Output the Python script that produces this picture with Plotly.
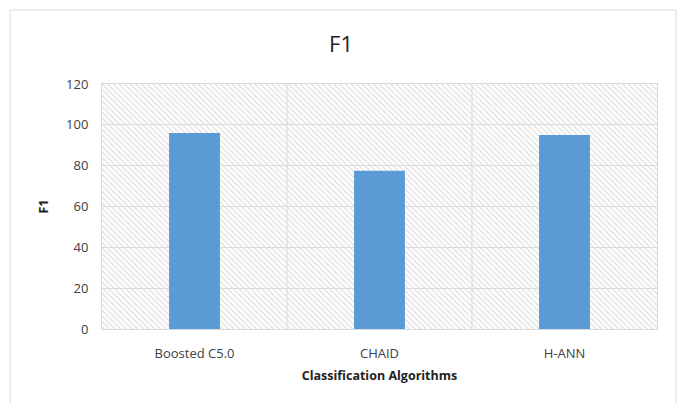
import plotly.graph_objects as go

categories = ["Boosted C5.0", "CHAID", "H-ANN"]
f1_values = [96, 77.5, 95]
y_ticks = [0, 20, 40, 60, 80, 100, 120]

xpos = list(range(len(categories)))
font_family = "Open Sans, Liberation Sans, sans-serif"

fig = go.Figure()
# hatched plot background (one band per category)
fig.add_trace(go.Bar(
    x=xpos, y=[max(y_ticks)] * len(categories), width=1,
    marker=dict(color="rgba(0,0,0,0)", line=dict(width=0),
                pattern=dict(shape="\\", fgcolor="#dedede", bgcolor="rgba(0,0,0,0)",
                             size=4, solidity=0.3, fillmode="replace")),
    hoverinfo="skip", showlegend=False))
fig.add_trace(go.Bar(
    x=xpos, y=f1_values, width=0.275,
    marker=dict(color="#5b9bd5", line=dict(width=0)),
    showlegend=False))

fig.update_layout(
    width=682, height=403,
    margin=dict(l=102, r=25, t=84, b=74),
    paper_bgcolor="white", plot_bgcolor="white",
    barmode="overlay",
    title=dict(text="F1", x=0.5, xanchor="center", y=0.89, yanchor="middle",
               font=dict(family=font_family, size=22, color="#222222")),
    font=dict(family=font_family, color="#404040"),
    xaxis=dict(range=[-0.5, 2.5], tickvals=xpos, ticktext=categories,
               showgrid=False, zeroline=False, showline=True, linecolor="#d9d9d9",
               mirror=True, tickfont=dict(size=13, color="#404040"), ticks="",
               ticklabelstandoff=12,
               title=dict(text="<b>Classification Algorithms</b>", font=dict(size=12.5, color="#222222"),
                          standoff=10)),
    yaxis=dict(range=[0, 120], tickvals=y_ticks, showgrid=True, gridcolor="#d9d9d9",
               zeroline=False, showline=True, linecolor="#d9d9d9", mirror=True,
               tickfont=dict(size=13, color="#404040"), ticks="", ticklabelstandoff=10,
               title=dict(text="<b>F1</b>", font=dict(size=12.5, color="#222222"), standoff=14)),
    shapes=[
        dict(type="line", xref="x", yref="paper", x0=0.5, x1=0.5, y0=0, y1=1,
             line=dict(color="#d9d9d9", width=1), layer="above"),
        dict(type="line", xref="x", yref="paper", x0=1.5, x1=1.5, y0=0, y1=1,
             line=dict(color="#d9d9d9", width=1), layer="above"),
        dict(type="rect", xref="paper", yref="paper", x0=-92/555, x1=(676-102)/555,
             y0=-(403-329+10)/245, y1=(329-10)/245,
             line=dict(color="#d9d9d9", width=1), layer="below"),
    ],
)

fig.write_html("out.html")
